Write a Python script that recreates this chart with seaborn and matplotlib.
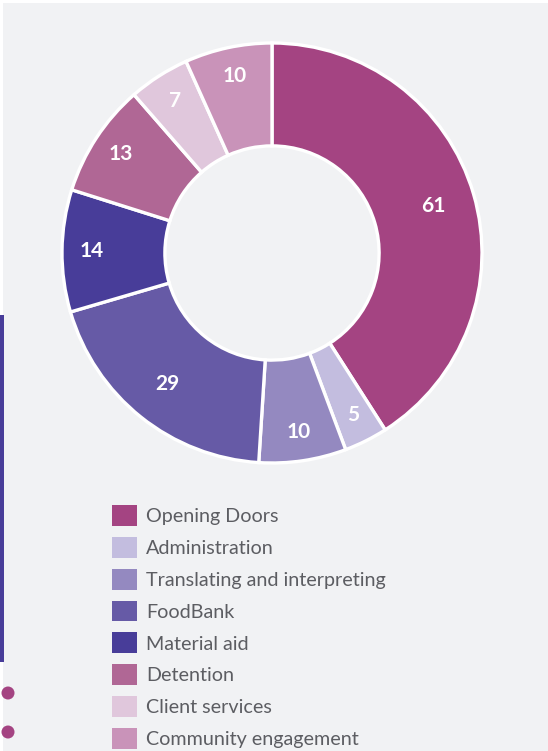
import matplotlib
matplotlib.use("Agg")
import matplotlib.pyplot as plt
import matplotlib.patches as mpatches
import numpy as np
import seaborn as sns

# data
categories = ['Opening Doors', 'Administration', 'Translating and interpreting', 'FoodBank',
              'Material aid', 'Detention', 'Client services', 'Community engagement']
values = [61, 5, 10, 29, 14, 13, 7, 10]
colors = ['#a44482', '#c3bddf', '#9489c0', '#665aa6', '#483d99', '#b06795', '#e0c7dc', '#c993b9']

sns.set_style('white')
plt.rcParams['font.family'] = ['Lato', 'DejaVu Sans']

W, H = 548, 751
fig = plt.figure(figsize=(W / 100, H / 100), dpi=100, facecolor='white')

# gray panel background with thin white margin top/left
fig.patches.append(mpatches.Rectangle((3 / W, 0), 1, 1 - 3 / H, transform=fig.transFigure,
                                      facecolor='#f1f2f4', edgecolor='none', zorder=-2))
# decorative bar and dots on left edge
fig.patches.append(mpatches.Rectangle((0, (H - 662) / H), 3.5 / W, 347 / H, transform=fig.transFigure,
                                      facecolor='#483d99', edgecolor='none', zorder=-1))
for cy in (693, 732):
    fig.patches.append(mpatches.Ellipse((8 / W, (H - cy) / H), 13 / W, 13 / H, transform=fig.transFigure,
                                        facecolor='#a44482', edgecolor='none', zorder=-1))

# donut
cx, cy, r = 272, 253, 210
ax = fig.add_axes([(cx - r) / W, (H - cy - r) / H, 2 * r / W, 2 * r / H], zorder=2)
ax.set_facecolor('none')
pal = sns.color_palette(colors)
wedges, _ = ax.pie(values, colors=pal, startangle=90, counterclock=False,
                   wedgeprops=dict(width=0.49, edgecolor='white', linewidth=2.4))
ax.set_xlim(-1, 1)
ax.set_ylim(-1, 1)
ax.set_aspect('equal')
ax.axis('off')

# value labels; small slices sit a bit further out
for w, v in zip(wedges, values):
    ang = np.deg2rad((w.theta1 + w.theta2) / 2)
    rr = 0.80 if v > 20 else 0.86
    ax.text(rr * np.cos(ang), rr * np.sin(ang), str(v), ha='center', va='center',
            color='white', fontsize=15, fontweight='bold')

# legend
handles = [mpatches.Patch(facecolor=c, edgecolor='none') for c in pal]
leg = fig.legend(handles, categories, loc='upper left', bbox_to_anchor=(104 / W, (H - 497) / H),
                 frameon=False, fontsize=14.2, handlelength=1.25, handleheight=1.25,
                 labelspacing=0.56, handletextpad=0.5, borderaxespad=0, labelcolor='#5c5d62')
leg.set_zorder(3)

fig.savefig('out.png', dpi=100, facecolor=fig.get_facecolor())
